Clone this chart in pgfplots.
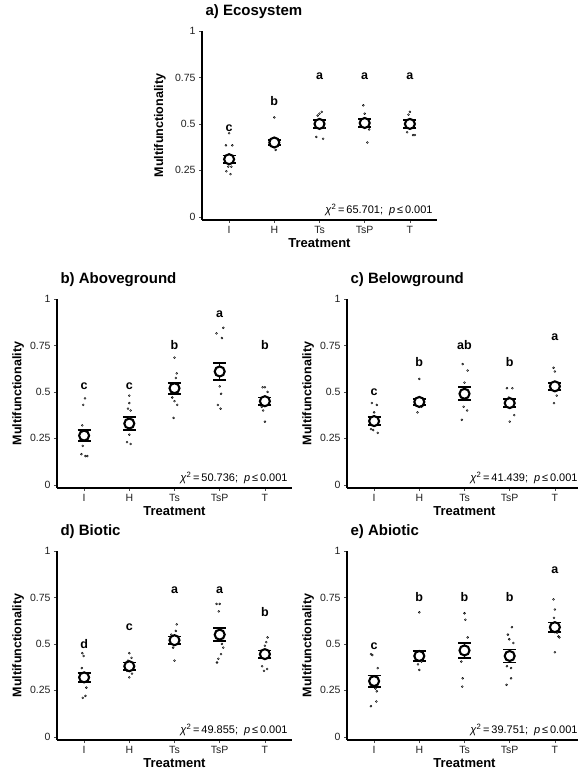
\documentclass[border=0pt]{standalone}
\usepackage{pgfplots}
\pgfplotsset{compat=1.18}
\usepackage{fontspec}
\setmainfont{Liberation Sans}
\pgfplotsset{
 mfpanel/.style={
  scale only axis, width=235pt, height=189pt,
  xmin=0.4, xmax=5.6, ymin=-0.017, ymax=1,
  xtick={1,2,3,4,5}, xticklabels={I,H,Ts,TsP,T},
  ytick={0,0.25,0.5,0.75,1}, yticklabels={0,0.25,0.5,0.75,1},
  axis x line*=bottom, axis y line*=left,
  axis line style={line width=1.1pt, black},
  tick align=outside, major tick length=3pt,
  every tick/.style={gray!60!black, line width=0.6pt},
  ticklabel style={font=\fontsize{10.5}{12}\selectfont, text=gray!25!black},
  xlabel=Treatment, ylabel=Multifunctionality,
  xlabel style={font=\bfseries\fontsize{13}{15}\selectfont, at={(axis description cs:0.5,0)}, anchor=center, yshift=-23pt},
  ylabel style={font=\bfseries\fontsize{12.5}{15}\selectfont, at={(axis description cs:-0.165,0.5)}, anchor=center},
  title style={font=\bfseries\fontsize{15}{18}\selectfont, at={(axis description cs:0,1)}, anchor=base west, yshift=9pt},
  clip=false,
 },
 pts/.style={only marks, mark=*, mark size=1pt, mark options={draw=none, fill=gray!45}},
 ebar/.style={draw=none, mark=none, error bars/.cd, y dir=both, y explicit,
   error bar style={line width=1.6pt, black}, error mark options={rotate=90, line width=1.8pt, black, mark size=6.5pt}},
 meanpt/.style={only marks, mark=*, mark size=5pt, mark options={fill=white, draw=black, line width=2.1pt}},
 lett/.style={only marks, mark=none, nodes near coords, point meta=explicit symbolic,
   nodes near coords style={anchor=center, font=\bfseries\fontsize{12.5}{14}\selectfont, text=black}},
}
\newcommand{\stat}[1]{\textit{χ}\textsuperscript{2}\,=\,#1;\ \ \textit{p}\,≤\,0.001}
\begin{document}
\begin{tikzpicture}
\useasboundingbox (0,0) rectangle (578pt,772pt);
% a) Ecosystem
\begin{axis}[mfpanel, at={(202pt,552pt)}, anchor=south west, title={a) Ecosystem}, ylabel style={at={(axis description cs:-0.179,0.5)}}]
\addplot[pts] coordinates {(1.0,0.45)(0.93,0.385)(1.07,0.385)(0.92,0.30)(1.05,0.27)(0.98,0.27)(0.94,0.245)(1.03,0.23)
 (2.0,0.535)(2.03,0.36)(1.97,0.38)(2.05,0.42)
 (3.05,0.565)(3.0,0.555)(2.96,0.545)(2.93,0.43)(3.08,0.42)(3.1,0.48)
 (3.97,0.60)(4.0,0.555)(4.06,0.40)(4.1,0.47)(3.93,0.52)
 (5.0,0.565)(4.97,0.55)(4.94,0.455)(5.07,0.44)(5.11,0.44)(5.05,0.48)};
\addplot[ebar] table[x=x, y=m, y error=se] {
x m se
1 0.31 0.02
2 0.40 0.015
3 0.50 0.02
4 0.505 0.02
5 0.50 0.02
};
\addplot[meanpt] table[x=x, y=m] {
x m
1 0.31
2 0.40
3 0.50
4 0.505
5 0.50
};
\addplot[lett] table[x=x, y=y, meta=lab] {
x y lab
1 0.475 c
2 0.625 b
3 0.755 a
4 0.755 a
5 0.755 a
};
\node[anchor=base east, font=\fontsize{11}{13}\selectfont] at (axis cs:5.58,0.018) {\stat{65.701}};
\end{axis}
% b) Aboveground
\begin{axis}[mfpanel, at={(57pt,284pt)}, anchor=south west, title={b) Aboveground}]
\addplot[pts] coordinates {(1.02,0.465)(0.98,0.43)(0.96,0.32)(1.0,0.29)(0.97,0.21)(0.94,0.165)(1.03,0.155)(1.07,0.155)
 (2.0,0.48)(2.0,0.44)(1.97,0.41)(2.03,0.40)(2.0,0.36)(2.05,0.31)(2.0,0.27)(1.95,0.23)(2.03,0.22)
 (3.0,0.685)(3.05,0.60)(3.03,0.575)(2.95,0.47)(3.0,0.45)(3.06,0.43)(2.98,0.36)
 (4.08,0.845)(3.93,0.815)(4.05,0.79)(4.0,0.53)(4.03,0.49)(3.96,0.43)(4.02,0.41)
 (4.95,0.525)(5.0,0.525)(5.06,0.50)(4.93,0.42)(4.96,0.40)(5.0,0.34)};
\addplot[ebar] table[x=x, y=m, y error=se] {
x m se
1 0.265 0.03
2 0.33 0.035
3 0.52 0.03
4 0.61 0.045
5 0.45 0.02
};
\addplot[meanpt] table[x=x, y=m] {
x m
1 0.265
2 0.33
3 0.52
4 0.61
5 0.45
};
\addplot[lett] table[x=x, y=y, meta=lab] {
x y lab
1 0.53 c
2 0.53 c
3 0.75 b
4 0.92 a
5 0.75 b
};
\node[anchor=base east, font=\fontsize{11}{13}\selectfont] at (axis cs:5.58,0.018) {\stat{50.736}};
\end{axis}
% c) Belowground
\begin{axis}[mfpanel, at={(347pt,284pt)}, anchor=south west, title={c) Belowground}]
\addplot[pts] coordinates {(0.95,0.44)(1.06,0.43)(1.0,0.39)(0.93,0.30)(0.98,0.295)(1.08,0.28)
 (2.0,0.57)(2.05,0.42)(1.96,0.39)
 (2.96,0.65)(3.07,0.615)(3.0,0.55)(2.98,0.42)(3.06,0.40)(2.94,0.35)
 (3.94,0.52)(4.06,0.52)(3.98,0.47)(4.1,0.375)(4.0,0.34)
 (4.97,0.63)(5.0,0.61)(5.04,0.48)(4.98,0.44)};
\addplot[ebar] table[x=x, y=m, y error=se] {
x m se
1 0.343 0.02
2 0.446 0.015
3 0.49 0.035
4 0.44 0.02
5 0.53 0.02
};
\addplot[meanpt] table[x=x, y=m] {
x m
1 0.343
2 0.446
3 0.49
4 0.44
5 0.53
};
\addplot[lett] table[x=x, y=y, meta=lab] {
x y lab
1 0.50 c
2 0.66 b
3 0.75 ab
4 0.66 b
5 0.795 a
};
\node[anchor=base east, font=\fontsize{11}{13}\selectfont] at (axis cs:5.58,0.018) {\stat{41.439}};
\end{axis}
% d) Biotic
\begin{axis}[mfpanel, at={(57pt,32pt)}, anchor=south west, title={d) Biotic}]
\addplot[pts] coordinates {(0.96,0.45)(0.99,0.435)(0.95,0.37)(1.05,0.265)(1.03,0.22)(0.97,0.21)
 (2.0,0.45)(2.05,0.425)(1.97,0.41)(1.95,0.355)(2.06,0.34)(2.0,0.32)
 (3.05,0.605)(3.03,0.57)(2.93,0.55)(2.97,0.48)(3.0,0.41)
 (3.93,0.715)(4.0,0.715)(3.98,0.675)(4.05,0.50)(4.08,0.48)(4.03,0.445)(3.97,0.42)(3.94,0.40)
 (5.06,0.535)(5.03,0.51)(5.0,0.49)(4.94,0.38)(5.05,0.365)(4.98,0.355)};
\addplot[ebar] table[x=x, y=m, y error=se] {
x m se
1 0.32 0.025
2 0.38 0.02
3 0.52 0.02
4 0.55 0.035
5 0.445 0.02
};
\addplot[meanpt] table[x=x, y=m] {
x m
1 0.32
2 0.38
3 0.52
4 0.55
5 0.445
};
\addplot[lett] table[x=x, y=y, meta=lab] {
x y lab
1 0.50 d
2 0.59 c
3 0.79 a
4 0.79 a
5 0.67 b
};
\node[anchor=base east, font=\fontsize{11}{13}\selectfont] at (axis cs:5.58,0.018) {\stat{49.855}};
\end{axis}
% e) Abiotic
\begin{axis}[mfpanel, at={(347pt,32pt)}, anchor=south west, title={e) Abiotic}]
\addplot[pts] coordinates {(0.93,0.445)(0.96,0.44)(1.08,0.37)(1.03,0.26)(1.06,0.245)(1.05,0.19)(0.93,0.165)
 (2.0,0.67)(2.05,0.405)(1.97,0.39)(2.0,0.36)
 (3.0,0.665)(3.02,0.63)(3.07,0.535)(2.93,0.405)(2.96,0.315)(2.95,0.27)
 (4.05,0.59)(3.96,0.55)(3.99,0.525)(4.08,0.505)(3.94,0.38)(4.03,0.37)(4.03,0.315)(3.93,0.28)
 (4.97,0.74)(5.0,0.685)(4.98,0.64)(5.05,0.56)(5.08,0.54)(5.1,0.535)(5.0,0.455)};
\addplot[ebar] table[x=x, y=m, y error=se] {
x m se
1 0.30 0.03
2 0.435 0.025
3 0.465 0.04
4 0.435 0.035
5 0.59 0.025
};
\addplot[meanpt] table[x=x, y=m] {
x m
1 0.30
2 0.435
3 0.465
4 0.435
5 0.59
};
\addplot[lett] table[x=x, y=y, meta=lab] {
x y lab
1 0.49 c
2 0.75 b
3 0.75 b
4 0.75 b
5 0.895 a
};
\node[anchor=base east, font=\fontsize{11}{13}\selectfont] at (axis cs:5.58,0.018) {\stat{39.751}};
\end{axis}
\end{tikzpicture}
\end{document}
